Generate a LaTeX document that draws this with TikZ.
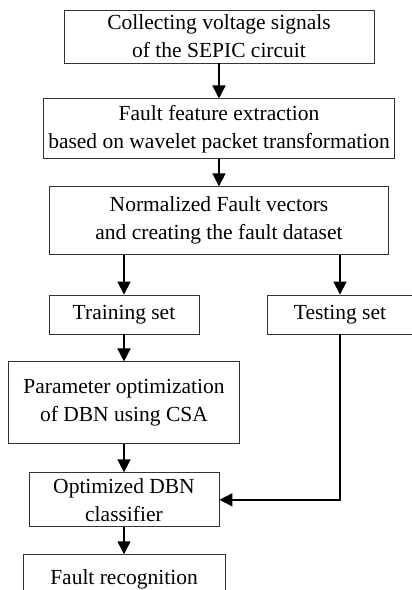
\documentclass[tikz,border=0pt]{standalone}
\usepackage{fontspec}
\setmainfont{Liberation Serif}
\usetikzlibrary{arrows.meta,positioning}

\begin{document}
\begin{tikzpicture}[x=1pt, y=-1pt,
	every node/.style={font=\fontsize{21.5}{28}\selectfont},
	blk/.style={rectangle, draw=black!80, line width=0.9pt, align=center, inner sep=0pt},
	flow/.style={-{Triangle[width=13pt,length=13pt]}, line width=1.6pt}]
	\useasboundingbox (0,0) rectangle (412,590);
	\node[blk, minimum width=310pt, minimum height=53pt] (collect) at (219,36.5) {Collecting voltage signals\\of the SEPIC circuit};
	\node[blk, minimum width=351pt, minimum height=60pt, below=35pt of collect] (extract) {Fault feature extraction\\based on wavelet packet transformation};
	\node[blk, minimum width=339pt, minimum height=68pt, below=27pt of extract] (dataset) {Normalized Fault vectors\\and creating the fault dataset};
	\node[blk, minimum width=150pt, minimum height=39pt] (train) at (124,314.5) {Training set};
	\node[blk, minimum width=146pt, minimum height=39pt] (test) at (340,314.5) {Testing set};
	\node[blk, minimum width=231pt, minimum height=82pt, below=27pt of train] (param) {Parameter optimization\\of DBN using CSA};
	\node[blk, minimum width=190pt, minimum height=54pt, below=28pt of param] (dbn) {Optimized DBN\\classifier};
	\node[blk, minimum width=202pt, minimum height=50pt, below=27pt of dbn] (recog) {Fault recognition};
	
	\draw[flow] (collect.south) -- (collect.south |- extract.north);
	\draw[flow] (extract.south) -- (extract.south |- dataset.north);
	\draw[flow] (train |- dataset.south) -- (train);
	\draw[flow] (test |- dataset.south) -- (test);
	\draw[flow] (train) -- (train |- param.north);
	\draw[flow] (param.south) -- (param.south |- dbn.north);
	\draw[flow] (dbn) -- (dbn |- recog.north);
	\draw[flow] (test.south) |- (dbn.east);
\end{tikzpicture}
\end{document}
